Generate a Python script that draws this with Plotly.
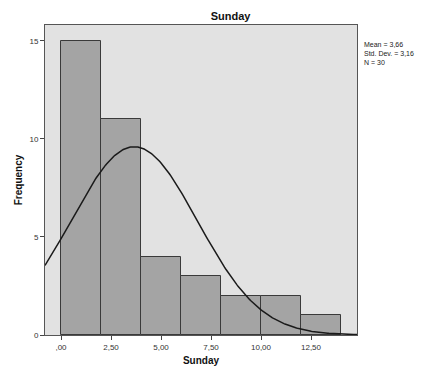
import numpy as np
import plotly.graph_objects as go

bin_edges = [0, 2, 4, 6, 8, 10, 12, 14]
counts = [15, 11, 4, 3, 2, 2, 1]
mean_val = 3.66
std_val = 3.16
n_label = 30
x_tick_vals = [0, 2.5, 5, 7.5, 10, 12.5]
x_tick_text = [",00", "2,50", "5,00", "7,50", "10,00", "12,50"]
y_tick_vals = [0, 5, 10, 15]

centers = [(bin_edges[i] + bin_edges[i + 1]) / 2 for i in range(len(counts))]
widths = [bin_edges[i + 1] - bin_edges[i] for i in range(len(counts))]

xr = [-0.8, 14.8]
xs = np.linspace(xr[0], xr[1], 300)
scale = sum(counts) * widths[0]
ys = scale / (std_val * np.sqrt(2 * np.pi)) * np.exp(-((xs - mean_val) ** 2) / (2 * std_val ** 2))

fig = go.Figure()
fig.add_trace(go.Bar(x=centers, y=counts, width=widths,
                     marker=dict(color="#a4a4a4", line=dict(color="#3a3a3a", width=1)),
                     showlegend=False))
fig.add_trace(go.Scatter(x=xs, y=ys, mode="lines",
                         line=dict(color="#1a1a1a", width=1.5), showlegend=False))

fig.update_layout(
    width=423, height=369,
    margin=dict(l=45, r=66, t=25, b=34),
    paper_bgcolor="white", plot_bgcolor="#e2e2e2",
    font=dict(family="Liberation Sans, Arial", size=8, color="#333"),
    title=dict(text="<b>Sunday</b>", x=0.545, xanchor="center", y=0.968, yanchor="top",
               font=dict(size=11, color="#111")),
    bargap=0,
    xaxis=dict(range=xr, tickvals=x_tick_vals, ticktext=x_tick_text, automargin=False,
               ticks="outside", ticklen=4, tickcolor="#444", showgrid=False, zeroline=False,
               showline=True, linecolor="#555", linewidth=1, mirror=True,
               title=dict(text="<b>Sunday</b>", font=dict(size=10, color="#111"), standoff=6)),
    yaxis=dict(range=[0, 15.8], tickvals=y_tick_vals, automargin=False,
               ticks="outside", ticklen=4, tickcolor="#444", showgrid=False, zeroline=False,
               showline=True, linecolor="#555", linewidth=1, mirror=True,
               title=dict(text="<b>Frequency</b>", font=dict(size=10, color="#111"), standoff=4)),
    annotations=[dict(text="Mean = 3,66<br>Std. Dev. = 3,16<br>N = 30",
                      xref="paper", yref="paper", x=1.015, y=0.955,
                      xanchor="left", yanchor="top", align="left", showarrow=False,
                      font=dict(size=7, color="#222"))],
)

fig.write_html("out.html")
